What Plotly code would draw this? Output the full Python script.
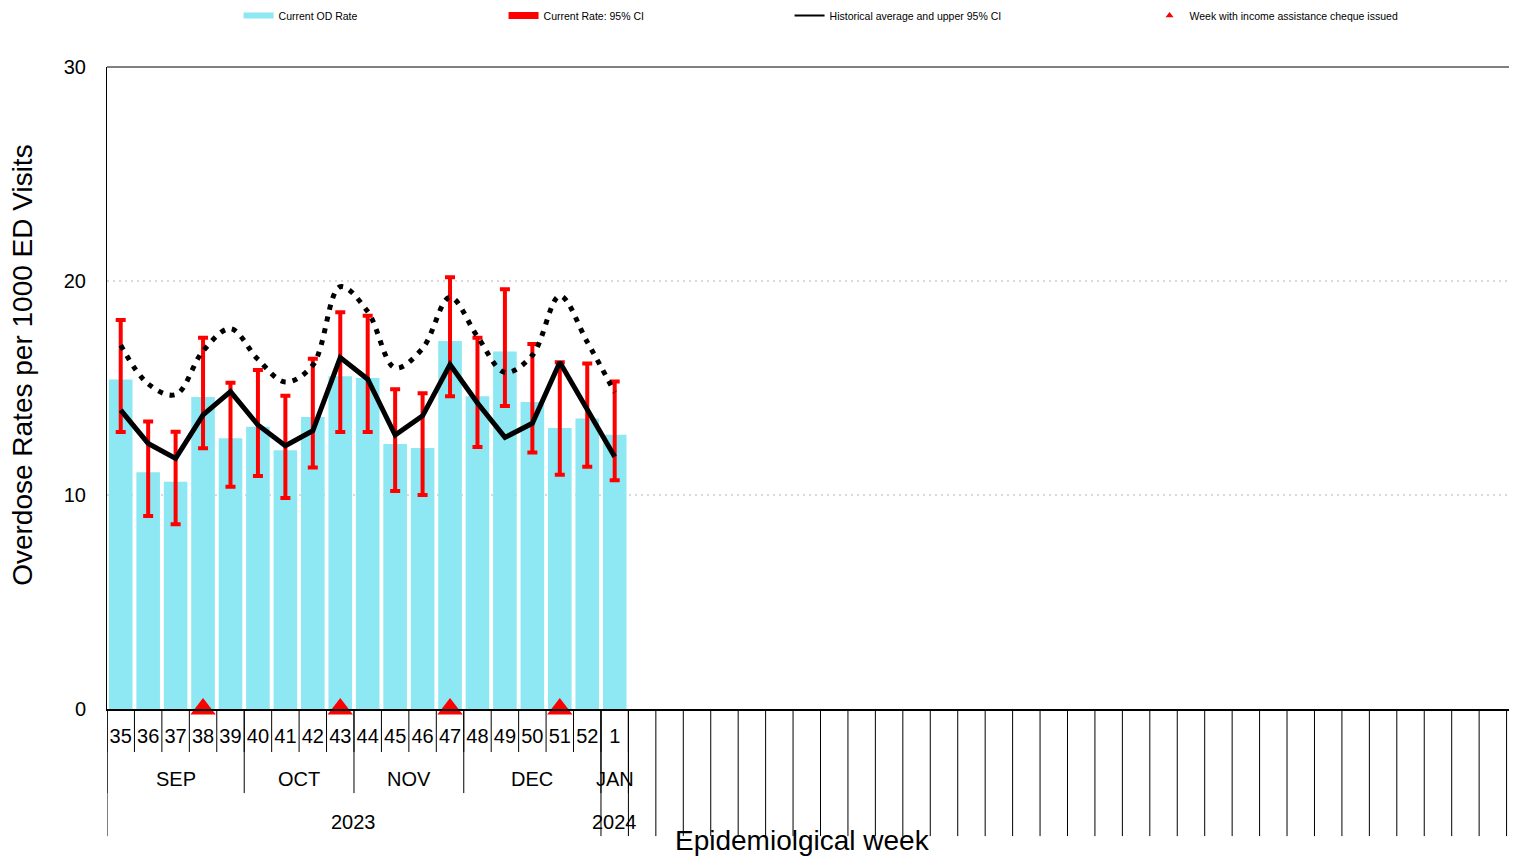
import plotly.graph_objects as go

# ---- data ----
weeks = [35, 36, 37, 38, 39, 40, 41, 42, 43, 44, 45, 46, 47, 48, 49, 50, 51, 52, 1]
months = ["SEP"] * 5 + ["OCT"] * 4 + ["NOV"] * 4 + ["DEC"] * 5 + ["JAN"]
years = ["2023"] * 18 + ["2024"]
rate = [15.4, 11.06, 10.62, 14.58, 12.65, 13.19, 12.09, 13.64, 15.55, 15.47,
        12.38, 12.2, 17.2, 14.61, 16.71, 14.35, 13.13, 13.58, 12.82]
ci_upper = [18.18, 13.43, 12.96, 17.35, 15.25, 15.84, 14.64, 16.37, 18.54, 18.38,
            14.94, 14.75, 20.17, 17.35, 19.61, 17.06, 16.2, 16.15, 15.3]
ci_lower = [12.94, 9.02, 8.63, 12.18, 10.39, 10.89, 9.86, 11.28, 12.94, 12.94,
            10.19, 10.0, 14.61, 12.24, 14.16, 11.99, 10.95, 11.32, 10.69]
hist_avg = [13.97, 12.41, 11.71, 13.74, 14.83, 13.27, 12.3, 13.0, 16.42, 15.41,
            12.8, 13.7, 16.1, 14.3, 12.69, 13.35, 16.2, 14.05, 11.79]
hist_upper = [17.0, 15.19, 14.69, 16.73, 17.77, 16.34, 15.28, 16.07, 19.73, 18.57,
              15.94, 16.85, 19.24, 17.4, 15.73, 16.53, 19.3, 17.15, 14.8]
cheque_weeks = [38, 43, 47, 51]
total_slots = 52
y_ticks = [0, 10, 20, 30]

FONT = "Liberation Sans, Arial, sans-serif"
idx = list(range(len(weeks)))
cheque_idx = [weeks.index(w) for w in cheque_weeks]

fig = go.Figure()

# bars with 95% CI error bars
fig.add_trace(go.Bar(
    x=idx, y=rate, marker=dict(color="#8de8f4", line=dict(width=0)),
    showlegend=False, name="Current OD Rate",
    error_y=dict(type="data", symmetric=False,
                 array=[u - r for u, r in zip(ci_upper, rate)],
                 arrayminus=[r - l for r, l in zip(rate, ci_lower)],
                 color="#ff0000", thickness=4, width=5),
))
# historical upper 95% CI (dotted, smoothed)
fig.add_trace(go.Scatter(
    x=idx, y=hist_upper, mode="lines",
    line=dict(color="black", width=5, dash="5px,7px", shape="spline"),
    showlegend=False, hoverinfo="skip",
))
# historical average
fig.add_trace(go.Scatter(
    x=idx, y=hist_avg, mode="lines",
    line=dict(color="black", width=5), showlegend=False,
))
# cheque weeks
fig.add_trace(go.Scatter(
    x=cheque_idx, y=[0] * len(cheque_idx), mode="markers",
    marker=dict(symbol="triangle-up", size=22, color="#ff0000"),
    cliponaxis=False, showlegend=False,
))

# legend entries
fig.add_trace(go.Scatter(x=[None], y=[None], mode="lines", name="Current OD Rate",
                         line=dict(color="#8de8f4", width=6), legendwidth=220))
fig.add_trace(go.Scatter(x=[None], y=[None], mode="lines", name="Current Rate: 95% CI",
                         line=dict(color="#ff0000", width=7), legendwidth=241))
fig.add_trace(go.Scatter(x=[None], y=[None], mode="lines",
                         name="Historical average and upper 95% CI",
                         line=dict(color="black", width=2), legendwidth=315))
fig.add_trace(go.Scatter(x=[None], y=[None], mode="markers",
                         name="Week with income assistance cheque issued",
                         marker=dict(symbol="triangle-up", size=7, color="#ff0000"),
                         legendwidth=220))

# ---- multi-level category axis decoration ----
shapes = []
H_WEEK, H_MONTH, H_YEAR = -0.067, -0.131, -0.198

def group_bounds(labels):
    b = [-0.5]
    for i in range(1, len(labels)):
        if labels[i] != labels[i - 1]:
            b.append(i - 0.5)
    b.append(len(labels) - 0.5)
    return b

for i in range(len(weeks) + 1):
    shapes.append(dict(type="line", xref="x", yref="paper", x0=i - 0.5, x1=i - 0.5,
                       y0=0, y1=H_WEEK, line=dict(color="black", width=1)))
for b in group_bounds(months):
    shapes.append(dict(type="line", xref="x", yref="paper", x0=b, x1=b,
                       y0=0, y1=H_MONTH, line=dict(color="black", width=1)))
for b in group_bounds(years):
    shapes.append(dict(type="line", xref="x", yref="paper", x0=b, x1=b,
                       y0=0, y1=H_YEAR, line=dict(color="black", width=1)))
for i in range(len(weeks) + 1, total_slots):
    shapes.append(dict(type="line", xref="x", yref="paper", x0=i - 0.5, x1=i - 0.5,
                       y0=0, y1=H_YEAR, line=dict(color="black", width=1)))
# top border
shapes.append(dict(type="line", xref="paper", yref="paper", x0=0, x1=1, y0=1, y1=1,
                   line=dict(color="black", width=1)))

annotations = []

def group_centers(labels):
    out = []
    start = 0
    for i in range(1, len(labels) + 1):
        if i == len(labels) or labels[i] != labels[start]:
            out.append(((start + i - 1) / 2, labels[start]))
            start = i
    return out

for c, lab in group_centers(months):
    annotations.append(dict(x=c, y=-0.109, xref="x", yref="paper", text=lab,
                            showarrow=False, font=dict(size=20, color="black", family=FONT),
                            xanchor="center", yanchor="middle"))
for c, lab in group_centers(years):
    annotations.append(dict(x=c, y=-0.176, xref="x", yref="paper", text=lab,
                            showarrow=False, font=dict(size=20, color="black", family=FONT),
                            xanchor="center", yanchor="middle"))
annotations.append(dict(x=0.4936, y=-0.2056, xref="paper", yref="paper",
                        text="Epidemiolgical week", showarrow=False,
                        font=dict(size=28, color="black", family=FONT),
                        xanchor="center", yanchor="middle"))
annotations.append(dict(x=-0.0596, y=0.536, xref="paper", yref="paper",
                        text="Overdose Rates per 1000 ED Visits", textangle=-90,
                        showarrow=False, font=dict(size=28, color="black", family=FONT),
                        xanchor="center", yanchor="middle"))

fig.update_layout(
    width=1509, height=848,
    margin=dict(l=99, r=0, t=59, b=147, pad=0, autoexpand=False),
    plot_bgcolor="white", paper_bgcolor="white",
    font=dict(family=FONT, color="black"),
    bargap=0.14,
    shapes=shapes, annotations=annotations,
    legend=dict(orientation="h", xref="paper", yref="paper",
                x=0.0933, y=1.1028, xanchor="left", yanchor="top",
                font=dict(size=10.5, color="black", family=FONT),
                bgcolor="rgba(0,0,0,0)", tracegroupgap=0),
    xaxis=dict(range=[-0.5, 50.88], tickmode="array", tickvals=idx,
               ticktext=[str(w) for w in weeks], ticks="", showgrid=False,
               zeroline=False, showline=True, linecolor="black", linewidth=1.5,
               tickfont=dict(size=20, color="black", family=FONT),
               ticklabelstandoff=8, fixedrange=True, automargin=False),
    yaxis=dict(range=[0, 30], tickmode="array", tickvals=y_ticks, ticks="",
               showgrid=True, gridcolor="#d9d9d9", gridwidth=2, griddash="2px,4px",
               zeroline=False, showline=True, linecolor="black", linewidth=1,
               tickfont=dict(size=20, color="black", family=FONT),
               ticklabelstandoff=16, fixedrange=True, automargin=False),
)

fig.write_html("out.html")
